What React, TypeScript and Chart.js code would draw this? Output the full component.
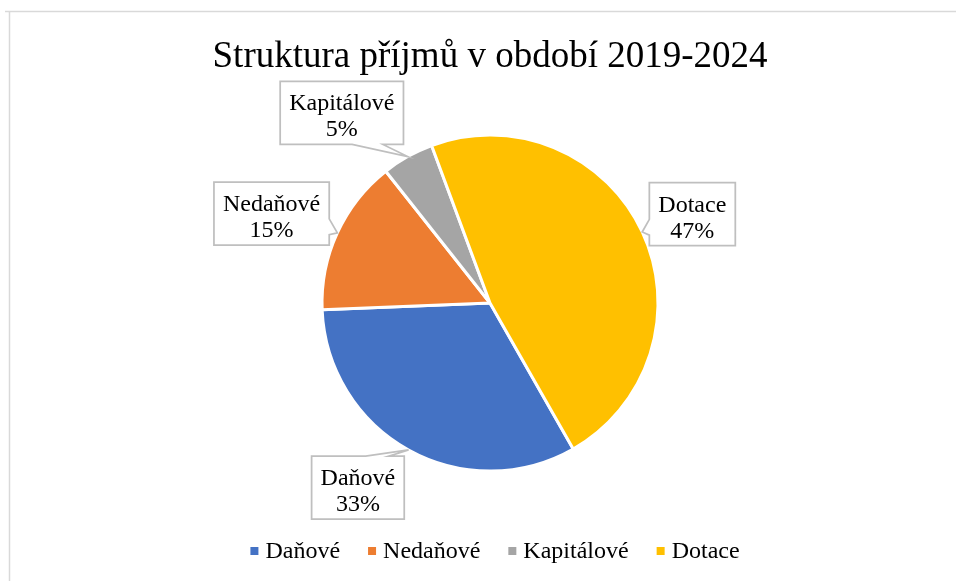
import React, { useEffect, useRef } from "react";
import { Chart, registerables } from "chart.js";

Chart.register(...registerables);

const TITLE = "Struktura příjmů v období 2019-2024";
const categories = ["Daňové", "Nedaňové", "Kapitálové", "Dotace"];
const shares = [32.6, 15.0, 5.0, 47.4];
const sliceColors = ["#4472C4", "#ED7D31", "#A5A5A5", "#FFC000"];

const FONT = "'Liberation Serif', 'Times New Roman', serif";

// callout placement: distance of the box centre from the pie centre and angular shift from slice middle (deg)
const calloutDist = [227, 236, 241, 221];
const calloutShift = [6.6, -2.4, -8.6, 1.3];

function drawCallout(
  ctx: CanvasRenderingContext2D,
  l: number,
  t: number,
  w: number,
  h: number,
  tipX: number,
  tipY: number
) {
  const cx = l + w / 2;
  const cy = t + h / 2;
  const dxPos = tipX - cx;
  const dyPos = tipY - cy;
  const dq = (dxPos * h) / w;
  const vertical = Math.abs(dyPos) - Math.abs(dq) > 0;
  const xg1 = dxPos > 0 ? 7 : 2;
  const xg2 = dxPos > 0 ? 10 : 5;
  const yg1 = dyPos > 0 ? 7 : 2;
  const yg2 = dyPos > 0 ? 10 : 5;
  ctx.beginPath();
  ctx.moveTo(l, t);
  if (vertical && dyPos < 0) {
    ctx.lineTo(l + (w * xg1) / 12, t);
    ctx.lineTo(tipX, tipY);
    ctx.lineTo(l + (w * xg2) / 12, t);
  }
  ctx.lineTo(l + w, t);
  if (!vertical && dxPos > 0) {
    ctx.lineTo(l + w, t + (h * yg1) / 12);
    ctx.lineTo(tipX, tipY);
    ctx.lineTo(l + w, t + (h * yg2) / 12);
  }
  ctx.lineTo(l + w, t + h);
  if (vertical && dyPos > 0) {
    ctx.lineTo(l + (w * xg2) / 12, t + h);
    ctx.lineTo(tipX, tipY);
    ctx.lineTo(l + (w * xg1) / 12, t + h);
  }
  ctx.lineTo(l, t + h);
  if (!vertical && dxPos < 0) {
    ctx.lineTo(l, t + (h * yg2) / 12);
    ctx.lineTo(tipX, tipY);
    ctx.lineTo(l, t + (h * yg1) / 12);
  }
  ctx.closePath();
  ctx.fillStyle = "#FFFFFF";
  ctx.fill();
  ctx.lineWidth = 1.75;
  ctx.strokeStyle = "#BFBFBF";
  ctx.lineJoin = "miter";
  ctx.stroke();
}

const decorPlugin = {
  id: "decor",
  afterDraw(chart: any) {
    const ctx: CanvasRenderingContext2D = chart.ctx;
    ctx.save();

    // outer frame (top and left edges visible)
    ctx.strokeStyle = "#D9D9D9";
    ctx.lineWidth = 1.5;
    ctx.beginPath();
    ctx.moveTo(5, 11.5);
    ctx.lineTo(chart.width, 11.5);
    ctx.moveTo(9.5, 11.5);
    ctx.lineTo(9.5, chart.height);
    ctx.stroke();

    // title
    ctx.fillStyle = "#000000";
    ctx.font = `37px ${FONT}`;
    ctx.textAlign = "center";
    ctx.textBaseline = "alphabetic";
    ctx.fillText(TITLE, 490, 67);

    // callouts
    const meta = chart.getDatasetMeta(0);
    const data: number[] = chart.data.datasets[0].data;
    const total = data.reduce((a, b) => a + b, 0);
    ctx.font = `24px ${FONT}`;
    meta.data.forEach((arc: any, i: number) => {
      const { x, y, startAngle, endAngle, outerRadius } = arc.getProps(
        ["x", "y", "startAngle", "endAngle", "outerRadius"],
        true
      );
      const mid = (startAngle + endAngle) / 2;
      const tipX = x + outerRadius * Math.cos(mid);
      const tipY = y + outerRadius * Math.sin(mid);
      const a = mid + (calloutShift[i] * Math.PI) / 180;
      const bx = x + calloutDist[i] * Math.cos(a);
      const by = y + calloutDist[i] * Math.sin(a);
      const name = String(chart.data.labels[i]);
      const pct = `${Math.round((data[i] / total) * 100)}%`;
      const tw = Math.max(ctx.measureText(name).width, ctx.measureText(pct).width);
      const w = tw + 18;
      const h = 63;
      const l = bx - w / 2;
      const t = by - h / 2;
      drawCallout(ctx, l, t, w, h, tipX, tipY);
      ctx.fillStyle = "#000000";
      ctx.textAlign = "center";
      ctx.fillText(name, bx, t + 29);
      ctx.fillText(pct, bx, t + 55);
    });

    // legend
    ctx.font = `24px ${FONT}`;
    ctx.textAlign = "left";
    const box = 8;
    const gapText = 7;
    const gapItem = 28;
    const widths = categories.map((c) => box + gapText + ctx.measureText(c).width);
    const totalW = widths.reduce((a, b) => a + b, 0) + gapItem * (categories.length - 1);
    let lx = 495 - totalW / 2;
    const baseY = 558;
    categories.forEach((c, i) => {
      ctx.fillStyle = sliceColors[i];
      ctx.fillRect(lx, 547, box, box);
      ctx.fillStyle = "#000000";
      ctx.fillText(c, lx + box + gapText, baseY);
      lx += widths[i] + gapItem;
    });

    ctx.restore();
  },
};

export default function App() {
  const ref = useRef<HTMLCanvasElement | null>(null);
  useEffect(() => {
    if (!ref.current) return;
    const chart = new Chart(ref.current, {
      type: "pie",
      data: {
        labels: categories,
        datasets: [
          {
            data: shares,
            backgroundColor: sliceColors,
            borderColor: "#FFFFFF",
            borderWidth: 3,
          },
        ],
      },
      options: {
        responsive: false,
        animation: false,
        rotation: 150.3,
        radius: 168,
        events: [],
        layout: { padding: { left: 24, right: 0, top: 136, bottom: 111 } },
        plugins: {
          legend: { display: false },
          title: { display: false },
          tooltip: { enabled: false },
        },
      } as any,
      plugins: [decorPlugin],
    });
    return () => chart.destroy();
  }, []);
  return (
    <div style={{ position: "fixed", left: 0, top: 0, width: 956, height: 581, background: "#FFFFFF" }}>
      <canvas ref={ref} width={956} height={581} style={{ width: 956, height: 581, display: "block" }} />
    </div>
  );
}
